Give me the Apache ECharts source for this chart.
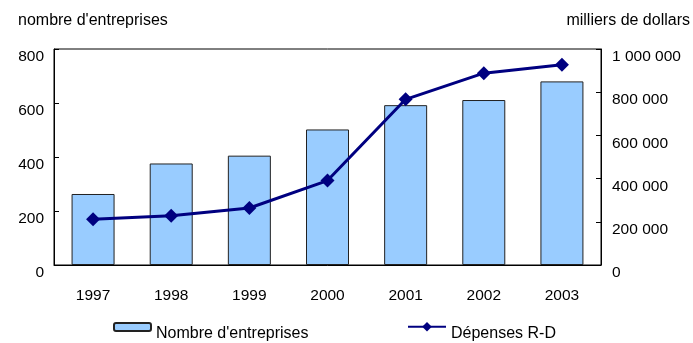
<!DOCTYPE html>
<html>
<head>
<meta charset="utf-8">
<script src="https://cdn.jsdelivr.net/npm/echarts@6/dist/echarts.min.js"></script>
<style>
  html, body { margin: 0; padding: 0; background: #fff; }
  #chart { width: 693px; height: 343px; }
</style>
</head>
<body>
<div id="chart"></div>
<script>
// Years on the category axis
const years = ['1997', '1998', '1999', '2000', '2001', '2002', '2003'];
// Number of firms (left axis)
const firms = [263, 376, 405, 502, 592, 611, 680];
// R&D spending, thousands of dollars (right axis)
const spending = [212000, 228000, 264000, 391000, 767000, 888000, 927000];
// Axis tick settings
const leftMax = 800, leftStep = 200;
const rightMax = 1000000, rightStep = 200000;

const FONT = '"Liberation Sans", Arial, sans-serif';
const FS = 16;
const AXIS_FS = 15.5;

function spaced(v) {
  return String(v).replace(/\B(?=(\d{3})+(?!\d))/g, ' ');
}

const chart = echarts.init(document.getElementById('chart'), null, { renderer: 'canvas' });

// legend labels sit a little lower than their swatches
const legendText = {
  fontFamily: FONT, fontSize: FS, color: '#000',
  rich: { a: { fontFamily: FONT, fontSize: FS, color: '#000', padding: [14, 0, 0, 0] } }
};

chart.setOption({
  animation: false,
  textStyle: { fontFamily: FONT, color: '#000' },
  grid: { left: 54, right: 92, top: 49, bottom: 78, show: true, borderColor: '#000', borderWidth: 1, backgroundColor: 'transparent' },
  title: [
    { text: "nombre d'entreprises", left: 18, top: 13, padding: 0, textStyle: { fontFamily: FONT, fontSize: FS, fontWeight: 'normal', color: '#000' } },
    { text: 'milliers de dollars', right: 3, top: 13, padding: 0, textStyle: { fontFamily: FONT, fontSize: FS, fontWeight: 'normal', color: '#000' } }
  ],
  legend: [
    {
      data: [{ name: "Nombre d'entreprises" }],
      left: 108, top: 317,
      itemWidth: 37, itemHeight: 8, itemGap: 0,
      formatter: '{a|{name}}',
      textStyle: legendText
    },
    {
      data: [{ name: 'Dépenses R-D' }],
      left: 402, top: 317,
      itemWidth: 38, itemHeight: 12, itemGap: 0,
      formatter: '{a|{name}}',
      textStyle: legendText
    }
  ],
  xAxis: {
    type: 'category',
    data: years,
    axisLine: { lineStyle: { color: '#000', width: 1 } },
    axisTick: { show: false },
    axisLabel: { fontFamily: FONT, fontSize: AXIS_FS, color: '#000', margin: 23 }
  },
  yAxis: [
    {
      type: 'value', min: 0, max: leftMax, interval: leftStep,
      splitLine: { show: false },
      axisLine: { show: true, lineStyle: { color: '#000' } },
      axisTick: { show: true, inside: true, length: 5, lineStyle: { color: '#000' } },
      axisLabel: { fontFamily: FONT, fontSize: AXIS_FS, color: '#000', margin: 10, verticalAlign: 'top' }
    },
    {
      type: 'value', min: 0, max: rightMax, interval: rightStep, position: 'right',
      splitLine: { show: false },
      axisLine: { show: true, lineStyle: { color: '#000' } },
      axisTick: { show: true, inside: true, length: 5, lineStyle: { color: '#000' } },
      axisLabel: { fontFamily: FONT, fontSize: AXIS_FS, color: '#000', margin: 11, verticalAlign: 'top', formatter: spaced }
    }
  ],
  series: [
    {
      name: "Nombre d'entreprises",
      type: 'bar',
      yAxisIndex: 0,
      data: firms,
      barWidth: 43,
      itemStyle: { color: '#99CCFF', borderColor: '#222', borderWidth: 1 }
    },
    {
      name: 'Dépenses R-D',
      type: 'line',
      yAxisIndex: 1,
      data: spending,
      symbol: 'diamond',
      symbolSize: 14,
      lineStyle: { color: '#000080', width: 3 },
      itemStyle: { color: '#000080' }
    }
  ]
});
</script>
</body>
</html>
